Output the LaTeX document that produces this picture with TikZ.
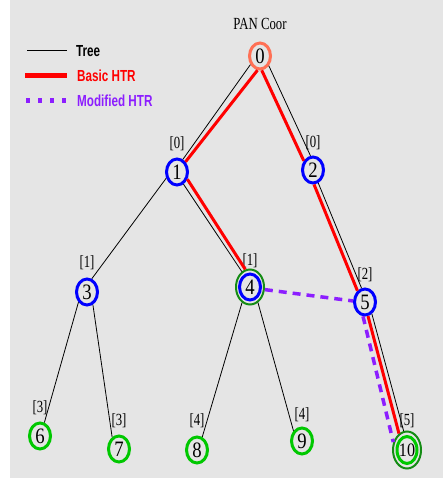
\documentclass[tikz,border=0pt]{standalone}
\usepackage{fontspec}
\usetikzlibrary{shapes.geometric}
\setmainfont{Liberation Serif}
\newfontfamily\numfont[FakeStretch=0.85]{Liberation Serif}
\newfontfamily\tagfont[FakeStretch=0.75]{Liberation Serif}
\newfontfamily\keyfont[FakeStretch=0.73]{Liberation Sans}
\definecolor{panbg}{RGB}{229,229,229}
\definecolor{coordred}{RGB}{255,112,85}
\definecolor{treeblue}{RGB}{0,0,255}
\definecolor{leafgreen}{RGB}{0,200,0}
\definecolor{ringgreen}{RGB}{20,140,20}
\definecolor{htrred}{RGB}{255,0,0}
\definecolor{htrpurple}{RGB}{140,30,255}

\begin{document}
\begin{tikzpicture}[x=1pt, y=-1pt,
  dev/.style={ellipse, draw, line width=3pt, minimum width=21pt,
    minimum height=26pt, inner sep=0pt,
    font=\numfont\fontsize{22}{22}\selectfont},
  router/.style={dev, draw=treeblue},
  leaf/.style={dev, draw=leafgreen},
  ring/.style={dev, draw=ringgreen, line width=2pt, minimum width=28pt,
    minimum height=35pt},
  depth/.style={font=\tagfont\fontsize{17}{17}\selectfont, inner sep=0pt},
  key/.style={font=\keyfont\bfseries\fontsize{16}{16}\selectfont,
    anchor=west, inner sep=0pt},
  tree/.style={line width=0.8pt, black},
  basic/.style={line width=3pt, htrred},
  modified/.style={line width=3.5pt, htrpurple, dash pattern=on 8pt off 6pt}]

  % frame
  \useasboundingbox (0, 0) rectangle (443, 481);
  \fill[panbg] (10, 0) rectangle (443, 478);

  % legend
  \draw[tree] (27, 50) -- (67, 50);
  \draw[basic, line width=5pt] (25, 76) -- (67, 76);
  \draw[modified, line width=5pt, dash pattern=on 4pt off 8pt] (26, 101) -- (66, 101);
  \node[key] (keytree) at (76, 51) {Tree};
  \node[key, htrred] (keybasic) at (77, 76) {Basic HTR};
  \node[key, htrpurple] (keymod) at (77, 101) {Modified HTR};

  % devices
  \node[dev, draw=coordred] (n0) at (260, 56) {0};
  \node[font=\tagfont\fontsize{17}{17}\selectfont] (pan) at (260, 24) {PAN Coor};
  \node[router] (n1) at (177, 172) {1};
  \node[router] (n2) at (313, 170) {2};
  \node[router] (n3) at (87, 292) {3};
  \node[ring] (n4) at (250, 287) {4};
  \draw[treeblue, line width=3pt] (n4) ellipse [x radius=10.5, y radius=13];
  \node[router] (n5) at (365, 302) {5};
  \node[leaf] (n6) at (40, 436) {6};
  \node[leaf] (n7) at (119, 449) {7};
  \node[leaf] (n8) at (197, 450) {8};
  \node[leaf] (n9) at (302, 441) {9};
  \node[ring, minimum height=37pt, font=\numfont\fontsize{19}{19}\selectfont]
    (n10) at (407, 450) {10};
  \draw[leafgreen, line width=3pt] (n10) ellipse [x radius=10, y radius=13.5];

  % depth tags
  \node[depth] (d1) at ([yshift=28pt]n1) {[0]};
  \node[depth] (d2) at ([yshift=27pt]n2) {[0]};
  \node[depth] (d3) at ([yshift=29pt]n3) {[1]};
  \node[depth] (d4) at ([yshift=26pt]n4) {[1]};
  \node[depth] (d5) at ([yshift=27pt]n5) {[2]};
  \node[depth] (d6) at ([yshift=28pt]n6) {[3]};
  \node[depth] (d7) at ([yshift=28pt]n7) {[3]};
  \node[depth] (d8) at ([yshift=29pt]n8) {[4]};
  \node[depth] (d9) at ([yshift=26pt]n9) {[4]};
  \node[depth] (d10) at ([yshift=29pt]n10) {[5]};

  % tree links
  \draw[tree] (n0.222) -- (n1.65);
  \draw[tree] (n0.312) -- (n2.100);
  \draw[tree] (n1.210) -- (n3.70);
  \draw[tree] (n1.298) -- (n4.118);
  \draw[tree] (n2.292) -- (n5.104);
  \draw[tree] (n3.230) -- (n6.72);
  \draw[tree] (n3.295) -- (n7.120);
  \draw[tree] (n4.243) -- (n8.68);
  \draw[tree] (n4.297) -- (n9.130);
  \draw[tree] (n5.300) -- (n10.100);

  % basic HTR route
  \draw[basic] (n0.260) -- (n1.50);
  \draw[basic] (n1.325) -- (n4.105);
  \draw[basic] (n0.277) -- (n2.135);
  \draw[basic] (n2.274) -- (n5.124);
  \draw[basic] (n5.282) -- (n10.116);

  % modified HTR route
  \draw[modified] (n4.350) -- (n5.175);
  \draw[modified] (n5.262) -- (n10.150);
\end{tikzpicture}
\end{document}
